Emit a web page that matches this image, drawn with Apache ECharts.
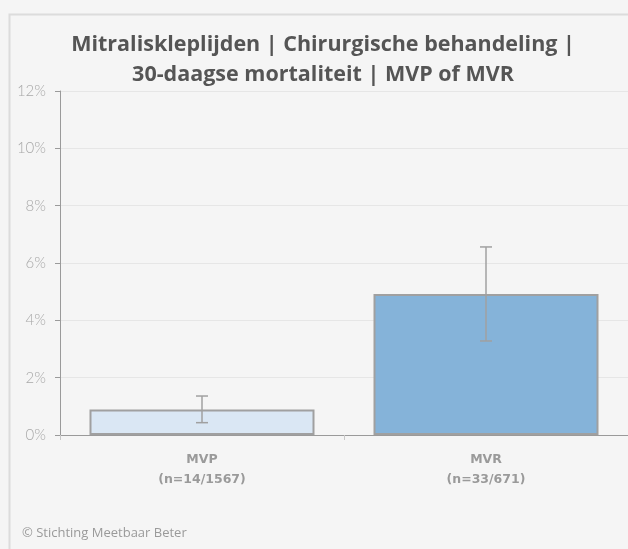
<!DOCTYPE html>
<html>
<head>
<meta charset="utf-8">
<script src="https://cdn.jsdelivr.net/npm/echarts@6/dist/echarts.min.js"></script>
<style>
  html, body { margin: 0; padding: 0; background: #f5f5f5; }
  #myChart { width: 628px; height: 549px; }
</style>
</head>
<body>
<div id="myChart"></div>
<script>
const categories = ["MVP\n(n=14/1567)", "MVR\n(n=33/671)"];
const values = [0.89, 4.92];
const lower = [0.43, 3.28];
const upper = [1.36, 6.56];
const yTicks = [0, 2, 4, 6, 8, 10, 12];
const barColors = ["#dae7f4", "#85b3d9"];

let chart = echarts.init(document.getElementById("myChart"));

let option = {
  backgroundColor: "#f5f5f5",
  animation: false,
  graphic: [
    {
      type: "rect",
      shape: { x: 9.5, y: 14.5, width: 640, height: 560 },
      style: { fill: "#f5f5f5", stroke: "#dcdcdc", lineWidth: 2 },
      z: -10
    },
    {
      type: "text",
      left: 22,
      top: 527,
      style: {
        text: "© Stichting Meetbaar Beter",
        font: "13px 'Open Sans'",
        fill: "#9a9a9a"
      }
    }
  ],
  title: {
    text: "Mitraliskleplijden | Chirurgische behandeling |\n30-daagse mortaliteit | MVP of MVR",
    left: 318,
    textAlign: "center",
    top: 25,
    textStyle: {
      fontFamily: "Open Sans",
      fontWeight: "bold",
      fontSize: 21.5,
      lineHeight: 30,
      color: "#555555"
    }
  },
  grid: { left: 60, right: -6, top: 91, bottom: 114 },
  xAxis: {
    type: "category",
    data: categories,
    axisLine: { lineStyle: { color: "#9a9a9a", width: 1 } },
    axisTick: { show: true, length: 5, lineStyle: { color: "#c8c8c8" } },
    axisLabel: {
      margin: 15,
      color: "#9a9a9a",
      fontFamily: "DejaVu Sans",
      fontWeight: "bold",
      fontSize: 12.5,
      lineHeight: 20
    }
  },
  yAxis: {
    type: "value",
    min: 0,
    max: 12,
    interval: 2,
    axisLine: { show: true, lineStyle: { color: "#9a9a9a" } },
    axisTick: { show: true, length: 5, lineStyle: { color: "#9a9a9a" } },
    axisLabel: {
      margin: 14,
      color: "#a8a8a8",
      fontFamily: "Lato",
      fontWeight: 300,
      fontSize: 15,
      formatter: function (v) {
        return yTicks.indexOf(v) >= 0 ? v + "%" : "";
      }
    },
    splitLine: { lineStyle: { color: "#e6e6e6" } }
  },
  series: [
    {
      type: "bar",
      barWidth: 225,
      data: values.map(function (v, i) {
        return {
          value: v,
          itemStyle: {
            color: barColors[i],
            borderColor: "#a0a0a0",
            borderWidth: 2
          }
        };
      })
    },
    {
      type: "custom",
      z: 5,
      data: lower.map(function (l, i) { return [i, l, upper[i]]; }),
      renderItem: function (params, api) {
        let lo = api.coord([api.value(0), api.value(1)]);
        let hi = api.coord([api.value(0), api.value(2)]);
        let hw = 6;
        let style = { stroke: "#a0a0a0", lineWidth: 1.5 };
        return {
          type: "group",
          children: [
            { type: "line", shape: { x1: hi[0], y1: hi[1], x2: lo[0], y2: lo[1] }, style: style },
            { type: "line", shape: { x1: hi[0] - hw, y1: hi[1], x2: hi[0] + hw, y2: hi[1] }, style: style },
            { type: "line", shape: { x1: lo[0] - hw, y1: lo[1], x2: lo[0] + hw, y2: lo[1] }, style: style }
          ]
        };
      }
    }
  ]
};

chart.setOption(option);
</script>
</body>
</html>
